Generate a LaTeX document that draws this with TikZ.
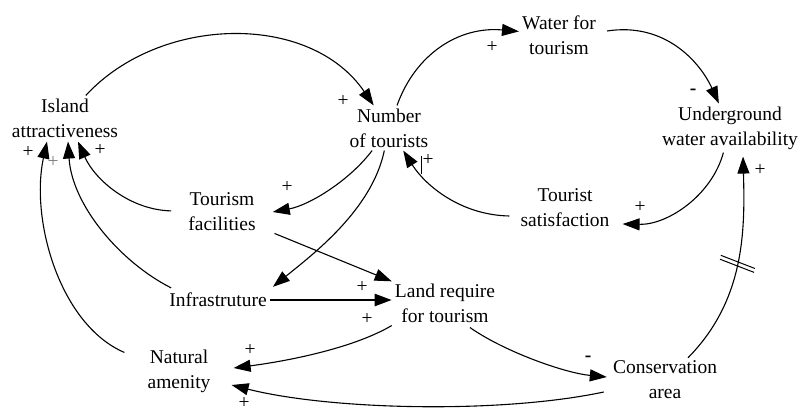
\documentclass[tikz,border=0pt]{standalone}
\usepackage{fontspec}
\setmainfont{Liberation Serif}
\usetikzlibrary{arrows.meta,decorations.markings}
\begin{document}
\begin{tikzpicture}[x=1pt,y=-1pt,
  lab/.style={font=\fontsize{19.5}{25}\selectfont, align=center, inner sep=3pt},
  sgn/.style={font=\fontsize{19.5}{25}\selectfont, inner sep=0pt},
  arr/.style={line width=1.1pt, -{Triangle[length=17pt,width=12pt]}},
  hash/.style={postaction={decorate}, decoration={markings,
    mark=at position 0.5 with {\draw[line width=1pt,-] (-5pt,-18pt)--(1pt,18pt);
                                \draw[line width=1pt,-] (-1pt,-18pt)--(5pt,18pt);}}}
]
\useasboundingbox (0,0) rectangle (799,412);
% nodes
\node[lab] (isl) at (65,118) {Island\\attractiveness};
\node[lab] (num) at (389,128) {Number\\of tourists};
\node[lab] (wat) at (559,35) {Water for\\tourism};
\node[lab] (und) at (730,128) {Underground\\water availability};
\node[lab] (ts) at (565,208) {Tourist\\satisfaction};
\node[lab] (tf) at (222,212) {Tourism\\facilities};
\node[lab] (inf) at (218,300) {Infrastruture};
\node[lab] (land) at (445,303) {Land require\\for tourism};
\node[lab] (nat) at (179,371) {Natural\\amenity};
\node[lab] (cons) at (665,380) {Conservation\\area};
% connectors
\draw[arr] (isl) .. controls (160,15) and (310,12) .. (num);
\draw[arr] (num) .. controls (415,55) and (458,26) .. (wat);
\draw[arr] ([shift={(8,-4)}]wat.east) .. controls (665,22) and (700,62) .. (und);
\draw[arr] (und) .. controls (712,195) and (668,225) .. ([shift={(10,16)}]ts.east);
\draw[arr] ([shift={(-8,8)}]ts.west) .. controls (460,215) and (425,185) .. (num);
\draw[arr] (num) .. controls (350,180) and (310,205) .. ([shift={(14,0)}]tf.east);
\draw[arr] (num) .. controls (372,210) and (312,255) .. ([shift={(3,-3)}]inf.north east);
\draw[arr, shorten <=17pt] (tf) -- (land);
\draw[arr, line width=2.4pt] (inf.east) -- (inf.east -| land.west);
\draw[arr, shorten <=14pt] (tf) .. controls (130,210) and (95,180) .. ([shift={(13,1)}]isl.south);
\draw[arr] ([shift={(5,-2)}]inf.north west) .. controls (120,262) and (72,205) .. ([shift={(3,1)}]isl.south);
\draw[arr] ([shift={(-20,6)}]nat.north west) .. controls (60,325) and (30,220) .. ([shift={(-18,1)}]isl.south);
\draw[arr] (land.south west) .. controls (350,350) and (280,362) .. ([shift={(20,-3)}]nat.east);
\draw[arr] ([shift={(25,2)}]land.south) .. controls (505,352) and (565,373) .. ([shift={(-3,-3)}]cons.west);
\draw[arr] ([shift={(-6,12)}]cons.west) .. controls (500,414) and (330,410) .. ([shift={(18,14)}]nat.east);
\draw[arr, hash] ([shift={(23,0)}]cons.north) .. controls (745,300) and (745,230) .. ([shift={(13,4)}]und.south);
% polarity signs
\node[sgn] (s1) at (343,101) {+};
\node[sgn] (s2) at (492,47) {+};
\node[sgn] (s3) at (693,92) {\textbf{-}};
\node[sgn] (s4) at (640,207) {+};
\node[sgn] (s5) at (428,160) {+};
\draw[line width=1pt] (421,156) -- (421,174);
\node[sgn] (s6) at (287,187) {+};
\node[sgn] (s8) at (362,287) {+};
\node[sgn] (s9) at (367,319) {+};
\node[sgn] (s10) at (100,150) {+};
\node[sgn, gray] (s11) at (53,162) {+};
\node[sgn] (s12) at (28,152) {+};
\node[sgn] (s13) at (250,350) {+};
\node[sgn] (s14) at (588,359) {\textbf{-}};
\node[sgn] (s15) at (244,403) {+};
\node[sgn] (s16) at (760,170) {+};
\end{tikzpicture}
\end{document}
